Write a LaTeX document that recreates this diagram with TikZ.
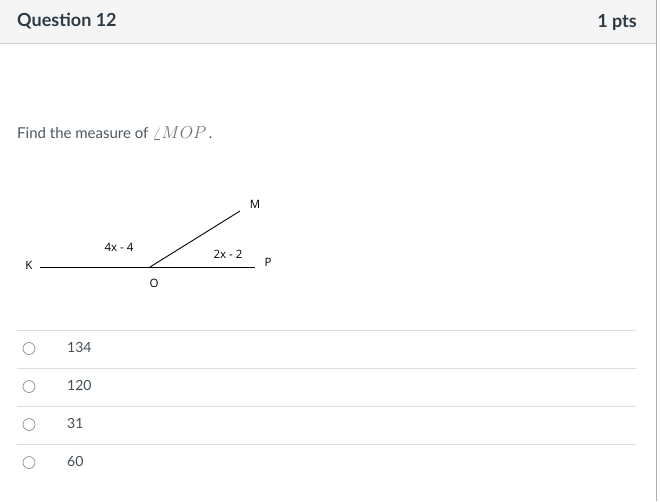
\documentclass[tikz,border=0pt]{standalone}
\usepackage{fontspec}
\setmainfont{Lato}
\newfontfamily\diagfont{Open Sans}
\definecolor{txt}{HTML}{2D3B45}
\definecolor{mathc}{HTML}{6B7378}
\definecolor{hdrbg}{HTML}{F5F5F5}
\definecolor{bordr}{HTML}{C7CDD1}
\definecolor{rule}{HTML}{DDDDDD}
\definecolor{radio}{HTML}{8A8F93}
\begin{document}
\begin{tikzpicture}[x=1pt,y=-1pt,
  hdr/.style={font=\fontsize{18}{20}\selectfont\bfseries, text=txt, inner sep=0pt},
  body/.style={font=\fontsize{15}{18}\selectfont, text=txt!85, inner sep=0pt},
  lbl/.style={font=\diagfont\fontsize{11.5}{12}\selectfont, text=black, inner sep=0pt},
  opt/.style={font=\fontsize{14}{16}\selectfont, text=txt!90, inner sep=0pt, anchor=west},
  radiobtn/.style={circle, draw=radio, line width=0.7pt, minimum size=12pt, inner sep=0pt},
  seg/.style={draw=black, line width=0.9pt}]
\useasboundingbox (0,0) rectangle (660,501);
\fill[white] (0,0) rectangle (660,501);
% header
\fill[hdrbg] (0,0) rectangle (656.5,43.5);
\draw[bordr, line width=1pt] (0,43.5) -- (656.5,43.5);
\draw[bordr!85!black, line width=1.2pt] (656.5,0) -- (656.5,501);
\node[hdr, anchor=west] (q) at (17,21) {Question 12};
\node[hdr, anchor=east] (pts) at (637,22) {1 pts};
% prompt
\node[body, anchor=west] (prompt) at (17,133) {Find the measure of {\fontsize{17}{18}\selectfont\textcolor{mathc}{$\angle MOP$}}\,.};
% diagram
\coordinate (K) at (40,267);
\coordinate (P) at (255,267);
\coordinate (O) at (150,267);
\coordinate (M) at (240,211);
\draw[seg] (K) -- (P);
\draw[seg] (O) -- (M);
\node[lbl] (lK) at (29,265) {K};
\node[lbl] (lM) at (255,204) {M};
\node[lbl] (lP) at (268,262) {P};
\node[lbl] (lO) at (154,283) {O};
\node[lbl] (a1) at (119,247) {4x - 4};
\node[lbl] (a2) at (228,254) {2x - 2};
% options
\foreach \y in {330.5,368.5,406.5,444.5} \draw[rule, line width=1pt] (17,\y) -- (636,\y);
\node[radiobtn] (r1) at (29,348.5) {};
\node[radiobtn] (r2) at (29,386.5) {};
\node[radiobtn] (r3) at (29,424.5) {};
\node[radiobtn] (r4) at (29,462.5) {};
\node[opt] (o1) at (67,347.5) {134};
\node[opt] (o2) at (67,385.5) {120};
\node[opt] (o3) at (67,423.5) {31};
\node[opt] (o4) at (67,461.5) {60};
\end{tikzpicture}
\end{document}
